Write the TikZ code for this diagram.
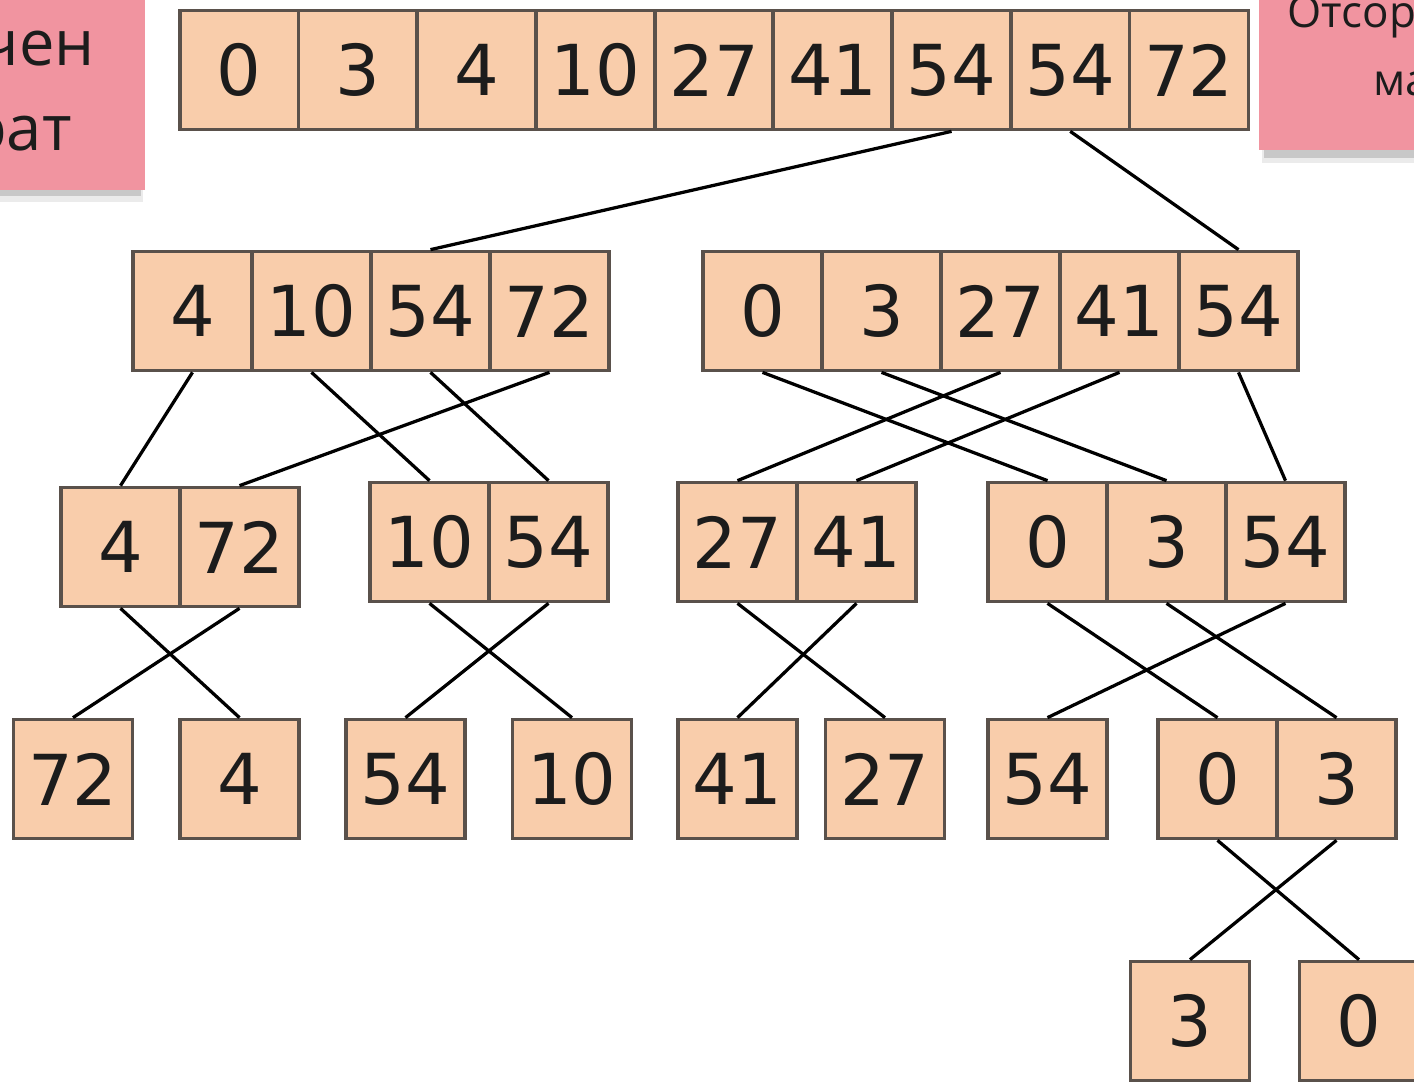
\documentclass[tikz,border=0pt]{standalone}
\usepackage{fontspec}
\setmainfont{DejaVu Sans}
\newfontfamily\notefont{Open Sans}
\definecolor{cellfill}{HTML}{F9CDAB}
\definecolor{cellline}{HTML}{5A514B}
\definecolor{notepink}{HTML}{F194A0}
\definecolor{inkgray}{HTML}{1C1C1C}
\tikzset{
  cell/.style={draw=cellline, fill=cellfill, line width=0.075cm, inner sep=0pt,
    minimum width=2.38cm, minimum height=2.38cm, text=inkgray,
    font=\fontsize{40}{48}\selectfont},
  wire/.style={line width=0.065cm, black},
  note/.style={fill=notepink},
  notetext/.style={text=inkgray, inner sep=0pt}
}
\begin{document}
\begin{tikzpicture}[x=0.02cm, y=-0.02cm]
  \useasboundingbox (0,0) rectangle (1414,1082);
  \clip (0,0) rectangle (1414,1082);
  % sticky notes at the top corners
  \fill[black, opacity=0.08] (0,183) rectangle (143,202);
  \fill[black, opacity=0.15] (0,185) rectangle (141,196);
  \fill[black, opacity=0.08] (1262,146) rectangle (1414,163);
  \fill[black, opacity=0.15] (1264,148) rectangle (1414,158);
  \fill[note] (-10,-10) rectangle (145,190);
  \fill[note] (1259,-10) rectangle (1430,150);
  \node[notetext, anchor=base east, font=\notefont\fontsize{36}{43}\selectfont] (lnote1) at (95,65) {чен};
  \node[notetext, anchor=base east, font=\notefont\fontsize{36}{43}\selectfont] (lnote2) at (72,150) {рат};
  \node[notetext, anchor=base west, font=\notefont\fontsize{25}{30}\selectfont] (rnote1) at (1287,27) {Отсор};
  \node[notetext, anchor=base west, font=\notefont\fontsize{25}{30}\selectfont] (rnote2) at (1373,95) {ма};
  % row 1
  \foreach \v [count=\i] in {0,3,4,10,27,41,54,54,72}
    \node[cell] (r1-\i) at ({180+118.7*(\i-0.5)},70) {\v};
  % row 2
  \foreach \v [count=\i] in {4,10,54,72}
    \node[cell] (r2-\i) at ({133+119*(\i-0.5)},311) {\v};
  \foreach \v [count=\i from 5] in {0,3,27,41,54}
    \node[cell] (r2-\i) at ({703+119*(\i-4.5)},311) {\v};
  % row 3
  \foreach \x/\y/\v [count=\i] in {120.5/547/4, 239.5/547/72, 429.5/542/10, 548.5/542/54,
      737.5/542/27, 856.5/542/41, 1047.5/542/0, 1166.5/542/3, 1285.5/542/54}
    \node[cell] (r3-\i) at (\x,\y) {\v};
  % row 4
  \foreach \x/\v [count=\i] in {73/72, 239.5/4, 405.5/54, 572/10, 737.5/41, 885/27,
      1047.5/54, 1217.5/0, 1336.5/3}
    \node[cell] (r4-\i) at (\x,779) {\v};
  % row 5
  \node[cell] (r5-1) at (1190,1021) {3};
  \node[cell] (r5-2) at (1359,1021) {0};
  % connectors
  \draw[wire] (r1-7.south) -- (r2-3.north);
  \draw[wire] (r1-8.south) -- (r2-9.north);
  \foreach \a/\b in {1/1, 2/3, 3/4, 4/2, 5/7, 6/8, 7/5, 8/6, 9/9}
    \draw[wire] (r2-\a.south) -- (r3-\b.north);
  \foreach \a/\b in {1/2, 2/1, 3/4, 4/3, 5/6, 6/5, 7/8, 8/9, 9/7}
    \draw[wire] (r3-\a.south) -- (r4-\b.north);
  \draw[wire] (r4-8.south) -- (r5-2.north);
  \draw[wire] (r4-9.south) -- (r5-1.north);
\end{tikzpicture}
\end{document}
